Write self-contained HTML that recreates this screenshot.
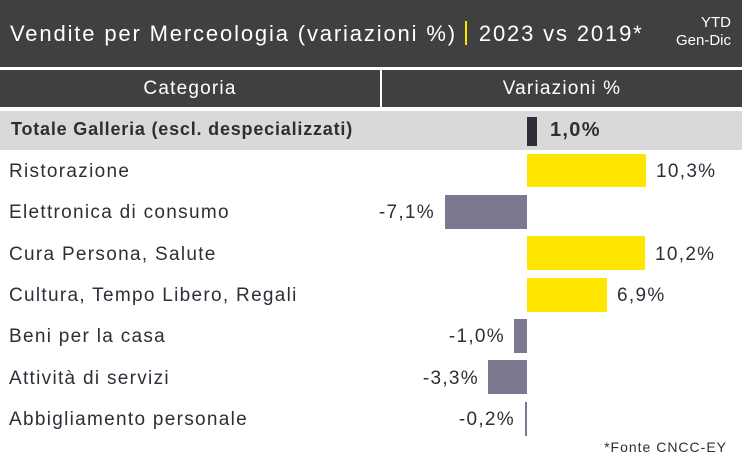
<!DOCTYPE html>
<html><head><meta charset="utf-8"><style>
body{margin:0;width:742px;height:468px;background:#fff;position:relative;overflow:hidden;font-family:"Liberation Sans",sans-serif;color:#2e2e38}
.a{position:absolute;white-space:nowrap}
.bar{position:absolute}
.y{background:#ffe600}.g{background:#7a798f}
.l{font-size:19px;left:9px;letter-spacing:1.3px}
.v{font-size:19px;letter-spacing:1.3px}
</style></head><body>
<div class="a" style="left:0;top:0;width:742px;height:67px;background:#404040"></div>
<div class="a" style="left:10px;top:21px;font-size:22px;letter-spacing:1.85px;color:#fff">Vendite per Merceologia (variazioni %) <span style="display:inline-block;width:2px;height:24px;background:#ffe600;vertical-align:-4px;margin:0 4px 0 0"></span> 2023 vs 2019*</div>
<div class="a" style="right:11px;top:14px;font-size:15px;color:#fff;text-align:right;line-height:18px">YTD<br>Gen-Dic</div>
<div class="a" style="left:0;top:70px;width:380px;height:37px;background:#404040"></div>
<div class="a" style="left:382px;top:70px;width:360px;height:37px;background:#404040"></div>
<div class="a" style="left:0;top:78px;width:380px;text-align:center;font-size:19px;letter-spacing:1.2px;color:#fff">Categoria</div>
<div class="a" style="left:382px;top:78px;width:360px;text-align:center;font-size:19px;letter-spacing:1.2px;color:#fff">Variazioni %</div>
<div class="a" style="left:0;top:111px;width:742px;height:39px;background:#d9d9d9"></div>
<div class="a" style="left:11px;top:119px;font-size:18px;letter-spacing:0.8px;font-weight:bold">Totale Galleria (escl. despecializzati)</div>
<div class="bar" style="left:527px;top:117px;width:10px;height:29px;background:#2e2e38"></div>
<div class="a" style="left:550px;top:119px;font-size:20px;letter-spacing:1.3px;font-weight:bold">1,0%</div>

<div class="a l" style="top:161px">Ristorazione</div>
<div class="bar y" style="left:527px;top:154px;width:119px;height:33px"></div>
<div class="a v" style="left:656px;top:161px">10,3%</div>

<div class="a l" style="top:202px">Elettronica di consumo</div>
<div class="bar g" style="left:445px;top:195px;width:82px;height:34px"></div>
<div class="a v" style="right:307px;top:202px">-7,1%</div>

<div class="a l" style="top:244px">Cura Persona, Salute</div>
<div class="bar y" style="left:527px;top:236px;width:118px;height:34px"></div>
<div class="a v" style="left:655px;top:244px">10,2%</div>

<div class="a l" style="top:285px">Cultura, Tempo Libero, Regali</div>
<div class="bar y" style="left:527px;top:278px;width:80px;height:34px"></div>
<div class="a v" style="left:617px;top:285px">6,9%</div>

<div class="a l" style="top:326px">Beni per la casa</div>
<div class="bar g" style="left:514px;top:319px;width:13px;height:34px"></div>
<div class="a v" style="right:237px;top:326px">-1,0%</div>

<div class="a l" style="top:368px">Attività di servizi</div>
<div class="bar g" style="left:488px;top:360px;width:39px;height:34px"></div>
<div class="a v" style="right:263px;top:368px">-3,3%</div>

<div class="a l" style="top:409px">Abbigliamento personale</div>
<div class="bar g" style="left:525px;top:402px;width:2px;height:34px"></div>
<div class="a v" style="right:227px;top:409px">-0,2%</div>

<div class="a" style="right:15px;top:439px;font-size:14px;letter-spacing:1px">*Fonte CNCC-EY</div>
</body></html>
